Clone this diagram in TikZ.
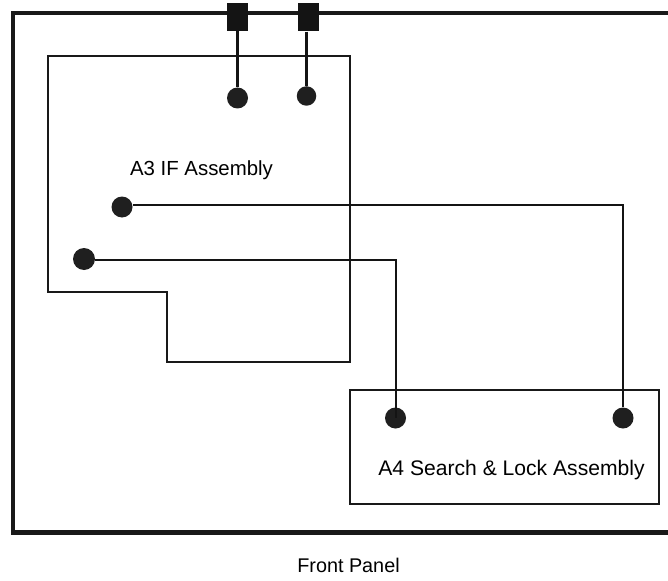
\documentclass[tikz,border=0pt]{standalone}
\usepackage{fontspec}
\setmainfont{Liberation Sans}
\tikzset{
  panel/.style={line width=4.6pt,black!90},
  assembly/.style={line width=2.6pt,black!90},
  wire/.style={line width=2.8pt,black!92},
  port/.style={circle,fill=black!88,inner sep=0pt,minimum size=#1},
  port/.default=21pt,
  jack/.style={rectangle,fill=black!92,inner sep=0pt,minimum width=21pt,minimum height=28pt},
  lbl/.style={inner sep=0pt,font=\fontsize{#1}{24}\selectfont},
  lbl/.default=20.2
}
\begin{document}
\begin{tikzpicture}[x=1pt,y=-1pt]
\useasboundingbox (0,0) rectangle (668,580);
\fill[white] (0,0) rectangle (668,580);
\coordinate (pTR) at (668,13);
\coordinate (pTL) at (13,13);
\coordinate (pBL) at (13,532.5);
\coordinate (pBR) at (668,532.5);
\draw[panel,line join=miter] (pTR) -- (pTL) -- (pBL) -- (pBR);
\draw[assembly] (48,56) -- (350,56) -- (350,362) -- (167,362) -- (167,292) -- (48,292) -- cycle;
\node[draw,assembly,minimum width=309pt,minimum height=114pt,inner sep=0pt] (a4) at (504.5,447) {};
\node[jack] (j1) at (237.5,17) {};
\node[jack] (j2) at (308,17.5) {};
\node[port] (p1) at (237.5,98) {};
\node[port=19.5pt] (p2) at (306.5,96) {};
\node[port] (p3) at (122,207) {};
\node[port=22pt] (p4) at (84,259) {};
\node[port] (p5) at (395.5,418) {};
\node[port] (p6) at (623,418) {};
\draw[wire] (j1) -- (p1);
\draw[wire] (j2.south -| p2) -- (p2);
\draw[wire] (p3.east |- 0,205) -- (623,205) -- (p6);
\draw[wire] (p4.east |- 0,260) -- (396,260) -- (396,418);
\node[lbl=20.4] (t1) at (201.5,170) {A3 IF Assembly};
\node[lbl=21.1] (t2) at (511.5,470) {A4 Search \& Lock Assembly};
\node[lbl=19.8] (t3) at (348.5,565) {Front Panel};
\end{tikzpicture}
\end{document}
